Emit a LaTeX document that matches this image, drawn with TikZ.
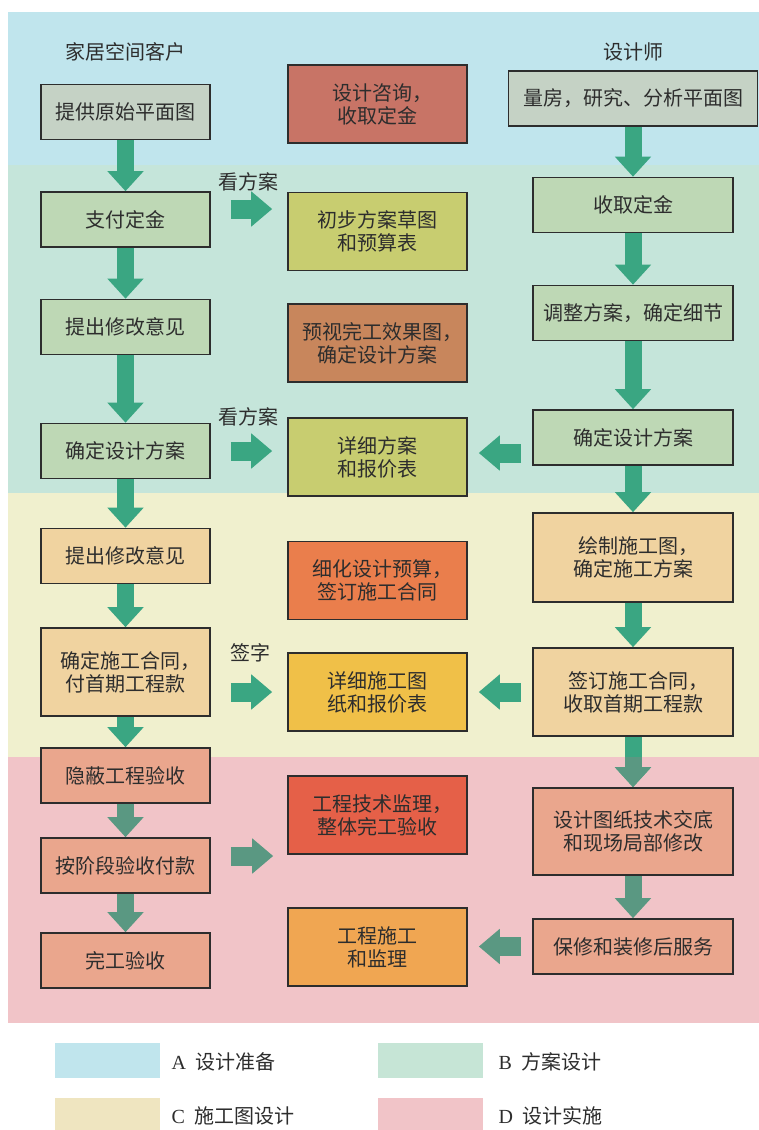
\documentclass[tikz,border=0pt]{standalone}
\usepackage{fontspec}
\setmainfont{Liberation Serif}
\newfontfamily\cjk{Noto Sans CJK SC}
\usepackage{tikz}
\usetikzlibrary{arrows.meta, positioning}

\definecolor{bandA}{RGB}{192,229,237}
\definecolor{bandB}{RGB}{197,229,218}
\definecolor{bandC}{RGB}{240,240,206}
\definecolor{bandD}{RGB}{241,196,200}
\definecolor{legB}{RGB}{198,229,214}
\definecolor{legC}{RGB}{239,229,192}
\definecolor{greyGreen}{RGB}{197,210,197}
\definecolor{paleGreen}{RGB}{190,216,181}
\definecolor{rustBox}{RGB}{200,116,102}
\definecolor{oliveBox}{RGB}{200,205,112}
\definecolor{brownBox}{RGB}{200,134,92}
\definecolor{peachBox}{RGB}{240,211,160}
\definecolor{orangeBox}{RGB}{234,126,76}
\definecolor{goldBox}{RGB}{240,192,72}
\definecolor{salmonBox}{RGB}{234,166,141}
\definecolor{redBox}{RGB}{229,96,72}
\definecolor{amberBox}{RGB}{240,166,82}
\definecolor{flowTeal}{RGB}{58,166,130}
\definecolor{flowGrey}{RGB}{90,152,130}
\definecolor{ink}{RGB}{45,45,45}

\newcommand{\hcomma}{\makebox[0.5em][l]{，}}

\begin{document}
\begin{tikzpicture}[x=1pt, y=-1pt, on grid, node distance=100pt,
    every node/.style={font=\cjk\fontsize{20}{23}\selectfont, text=ink},
    stepbox/.style={draw=ink, line width=1.6pt, align=center, inner sep=0pt, minimum height=55pt},
    lbox/.style={stepbox, minimum width=169pt},
    mbox/.style={stepbox, minimum width=179pt, minimum height=78pt},
    rbox/.style={stepbox, minimum width=200pt},
    vflow/.style={draw=flowTeal, line width=17pt, -{Triangle[width=35pt,length=20pt]}},
    hflow/.style={draw=flowTeal, line width=19pt, -{Triangle[width=34pt,length=21pt]}}]

  \fill[white] (0,0) rectangle (759,1130);
  \useasboundingbox (0,0) rectangle (759,1130);
  \fill[bandA] (8,12) rectangle (759,165);
  \fill[bandB] (8,165) rectangle (759,493);
  \fill[bandC] (8,493) rectangle (759,757);
  \fill[bandD] (8,757) rectangle (759,1023);

  \node (kehu) at (125,52) {家居空间客户};
  \node (shejishi) at (633,52) {设计师};

  \node[lbox, fill=greyGreen] (c_1) at (125.5,112) {提供原始平面图};
  \node[lbox, fill=paleGreen] (c_2) [below=107.5pt of c_1] {支付定金};
  \node[lbox, fill=paleGreen] (c_3) [below=107.5pt of c_2] {提出修改意见};
  \node[lbox, fill=paleGreen] (c_4) [below=124pt of c_3] {确定设计方案};
  \node[lbox, fill=peachBox] (c_5) [below=105pt of c_4] {提出修改意见};
  \node[lbox, fill=peachBox, minimum height=88pt] (c_6) [below=116pt of c_5] {确定施工合同\hcomma\\付首期工程款};
  \node[lbox, fill=salmonBox] (c_7) [below=103.5pt of c_6] {隐蔽工程验收};
  \node[lbox, fill=salmonBox] (c_8) [below=90pt of c_7] {按阶段验收付款};
  \node[lbox, fill=salmonBox] (c_9) [below=95pt of c_8] {完工验收};

  \node[mbox, fill=rustBox] (m_1) at (377.5,104) {设计咨询\hcomma\\收取定金};
  \node[mbox, fill=oliveBox] (m_2) [below=127.5pt of m_1] {初步方案草图\\和预算表};
  \node[mbox, fill=brownBox] (m_3) [below=111.5pt of m_2] {预视完工效果图\hcomma\\确定设计方案};
  \node[mbox, fill=oliveBox] (m_4) [below=114pt of m_3] {详细方案\\和报价表};
  \node[mbox, fill=orangeBox] (m_5) [below=123.5pt of m_4] {细化设计预算\hcomma\\签订施工合同};
  \node[mbox, fill=goldBox] (m_6) [below=111.5pt of m_5] {详细施工图\\纸和报价表};
  \node[mbox, fill=redBox] (m_7) [below=123pt of m_6] {工程技术监理\hcomma\\整体完工验收};
  \node[mbox, fill=amberBox] (m_8) [below=132pt of m_7] {工程施工\\和监理};

  \node[rbox, fill=greyGreen, minimum width=249pt] (r_1) at (633,98.5) {量房，研究、分析平面图};
  \node[rbox, fill=paleGreen] (r_2) [below=106.5pt of r_1] {收取定金};
  \node[rbox, fill=paleGreen] (r_3) [below=108pt of r_2] {调整方案，确定细节};
  \node[rbox, fill=paleGreen] (r_4) [below=124.5pt of r_3] {确定设计方案};
  \node[rbox, fill=peachBox, minimum height=89pt] (r_5) [below=120pt of r_4] {绘制施工图\hcomma\\确定施工方案};
  \node[rbox, fill=peachBox, minimum height=88pt] (r_6) [below=134.5pt of r_5] {签订施工合同\hcomma\\收取首期工程款};
  \node[rbox, fill=salmonBox, minimum height=87pt] (r_7) [below=139.5pt of r_6] {设计图纸技术交底\\和现场局部修改};
  \node[rbox, fill=salmonBox] (r_8) [below=115pt of r_7] {保修和装修后服务};

  \node (look_1) at (248,182) {看方案};
  \node (look_2) at (248,417) {看方案};
  \node (sign) at (250,653) {签字};

  \draw[vflow] (c_1.south) -- (c_2.north);
  \draw[vflow] (c_2.south) -- (c_3.north);
  \draw[vflow] (c_3.south) -- (c_4.north);
  \draw[vflow] (c_4.south) -- (c_5.north);
  \draw[vflow] (c_5.south) -- (c_6.north);
  \draw[vflow] (c_6.south) -- (c_7.north);
  \draw[vflow, draw=flowGrey] (c_7.south) -- (c_8.north);
  \draw[vflow, draw=flowGrey] (c_8.south) -- (c_9.north);

  \draw[vflow] (r_1.south) -- (r_2.north);
  \draw[vflow] (r_2.south) -- (r_3.north);
  \draw[vflow] (r_3.south) -- (r_4.north);
  \draw[vflow] (r_4.south) -- (r_5.north);
  \draw[vflow] (r_5.south) -- (r_6.north);
  \draw[vflow] (r_6.south) -- (r_7.north);
  \begin{scope}
    \clip (8,757) rectangle (759,1023);
    \draw[vflow, draw=flowGrey] (r_6.south) -- (r_7.north);
  \end{scope}
  \draw[vflow, draw=flowGrey] (r_7.south) -- (r_8.north);

  \draw[hflow, shorten <=20pt, shorten >=15pt] ([yshift=10.5pt]c_2.east) -- ([yshift=10.5pt]c_2.east -| m_2.west);
  \draw[hflow, shorten <=20pt, shorten >=15pt] (c_4.east) -- (c_4.east -| m_4.west);
  \draw[hflow, shorten <=20pt, shorten >=15pt] (c_6.east |- m_6) -- (m_6.west);
  \draw[hflow, draw=flowGrey, shorten <=20pt, shorten >=14pt] ([yshift=9.5pt]c_8.east) -- ([yshift=9.5pt]c_8.east -| m_7.west);

  \draw[hflow, shorten <=11pt, shorten >=11pt] ([yshift=4pt]m_4.east -| r_4.west) -- ([yshift=4pt]m_4.east);
  \draw[hflow, shorten <=11pt, shorten >=11pt] (r_6.west) -- (r_6.west -| m_6.east);
  \draw[hflow, draw=flowGrey, shorten <=11pt, shorten >=11pt] (r_8.west) -- (r_8.west -| m_8.east);

  \fill[bandA] (55,1043) rectangle (160,1078);
  \fill[legB] (378,1043) rectangle (483,1078);
  \fill[legC] (55,1098) rectangle (160,1130);
  \fill[bandD] (378,1098) rectangle (483,1130);
  \node[anchor=west] (leg_a) at (168,1062) {{\rmfamily A}\hspace{10pt}设计准备};
  \node[anchor=west] (leg_b) at (495,1062) {{\rmfamily B}\hspace{10pt}方案设计};
  \node[anchor=west] (leg_c) at (168,1116) {{\rmfamily C}\hspace{10pt}施工图设计};
  \node[anchor=west] (leg_d) at (495,1116) {{\rmfamily D}\hspace{10pt}设计实施};
\end{tikzpicture}
\end{document}
